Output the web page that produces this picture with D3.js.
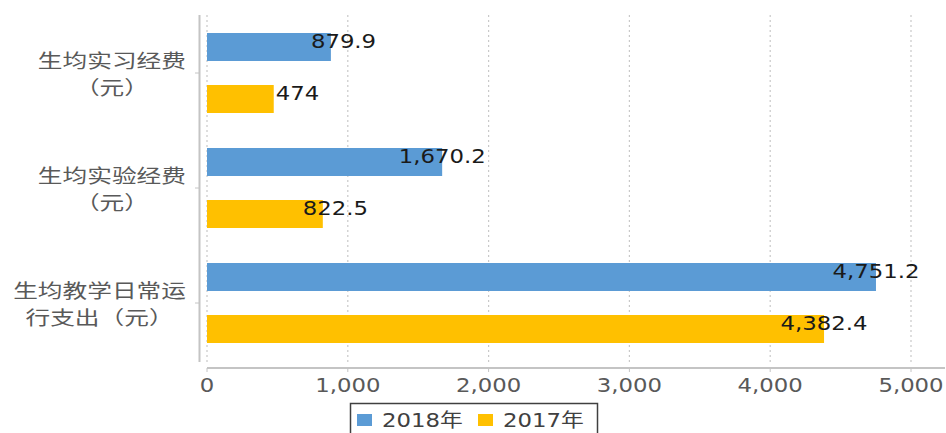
<!DOCTYPE html>
<html>
<head>
<meta charset="utf-8">
<script src="https://cdn.jsdelivr.net/npm/d3@7"></script>
<style>
  body { margin: 0; background: #fff; }
  svg { display: block; }
</style>
</head>
<body>
<div id="chart"></div>
<script>
const categories = ["生均实习经费\n（元）", "生均实验经费\n（元）", "生均教学日常运\n行支出（元）"];
const seriesNames = ["2018年", "2017年"];
const values2018 = [879.9, 1670.2, 4751.2];
const values2017 = [474, 822.5, 4382.4];
const xTicks = [0, 1000, 2000, 3000, 4000, 5000];
const colors = ["#5B9BD5", "#FFC000"];

const W = 946, H = 433;
const sx = 1.2; // the picture is stretched sideways, so text is too

const svg = d3.select("#chart").append("svg")
  .attr("width", W)
  .attr("height", H);

const x = d3.scaleLinear().domain([0, 5000]).range([207, 911]);
const y = d3.scaleBand().domain(categories).range([15.5, 360.5]);
const inner = d3.scaleBand().domain(seriesNames).range([0, y.bandwidth()])
  .paddingInner(0.4615).paddingOuter(0.3365);

const fmt = d3.format(",");

function stretchedText(g, tx, ty, str) {
  return g.append("text")
    .attr("transform", `translate(${tx},${ty}) scale(${sx},1)`)
    .text(str);
}

// dotted grid lines
svg.append("g")
  .selectAll("line")
  .data(xTicks)
  .join("line")
  .attr("x1", d => x(d))
  .attr("x2", d => x(d))
  .attr("y1", 15)
  .attr("y2", 362)
  .attr("stroke", "#c9c9c9")
  .attr("stroke-width", 1.2)
  .attr("stroke-dasharray", "2,3");

// bars
const rows = categories.map((c, i) => ({ cat: c, vals: [values2018[i], values2017[i]] }));
const groups = svg.append("g")
  .selectAll("g")
  .data(rows)
  .join("g")
  .attr("transform", d => `translate(0,${y(d.cat)})`);

groups.selectAll("rect")
  .data(d => d.vals.map((v, j) => ({ s: seriesNames[j], v: v, j: j })))
  .join("rect")
  .attr("x", x(0))
  .attr("y", d => inner(d.s))
  .attr("width", d => x(d.v) - x(0))
  .attr("height", inner.bandwidth())
  .attr("fill", d => colors[d.j]);

// data labels
groups.each(function(row) {
  const g = d3.select(this);
  row.vals.forEach((v, j) => {
    const end = x(v);
    const ty = inner(seriesNames[j]) + inner.bandwidth() / 2 + 1;
    const t = stretchedText(g, end, ty, fmt(v))
      .attr("font-family", "DejaVu Sans")
      .attr("font-size", 19)
      .attr("fill", "#1a1a1a")
      .attr("text-anchor", "middle");
    const w = t.node().getComputedTextLength() * sx;
    // centred on the bar end, short bars get pushed right a little
    let cx = end;
    if (v < 600) cx = end + 2 + w / 2;
    else if (v < 1000) cx = end - 20 + w / 2;
    t.attr("transform", `translate(${cx},${ty}) scale(${sx},1)`);
  });
});

// vertical axis
svg.append("line")
  .attr("x1", 199.5).attr("x2", 199.5)
  .attr("y1", 15).attr("y2", 362)
  .attr("stroke", "#c4c4c4").attr("stroke-width", 2);

svg.append("g")
  .selectAll("line")
  .data(categories)
  .join("line")
  .attr("x1", 195).attr("x2", 199)
  .attr("y1", d => y(d) + y.bandwidth() / 2)
  .attr("y2", d => y(d) + y.bandwidth() / 2)
  .attr("stroke", "#c4c4c4").attr("stroke-width", 1);

// category labels, one text with a tspan per line
const catG = svg.append("g");
const lh = 27, csx = 1.3;
categories.forEach(c => {
  const lines = c.split("\n");
  const cy = y(c) + y.bandwidth() / 2 + 1;
  const t = catG.append("text")
    .attr("font-family", "Noto Sans CJK SC")
    .attr("font-size", 19)
    .attr("fill", "#595959")
    .attr("text-anchor", "middle");
  const spans = lines.map((ln, k) =>
    t.append("tspan")
      .attr("x", 0)
      .attr("y", (k - (lines.length - 1) / 2) * lh + 7)
      .text(ln));
  const widths = spans.map(s => s.node().getComputedTextLength() * csx);
  const cx = 186 - d3.max(widths) / 2;
  t.attr("transform", `translate(${cx},${cy}) scale(${csx},1)`);
});

// horizontal axis
svg.append("line")
  .attr("x1", x(0)).attr("x2", 945)
  .attr("y1", 368).attr("y2", 368)
  .attr("stroke", "#c4c4c4").attr("stroke-width", 2);

const xAx = svg.append("g");
xAx.selectAll("line")
  .data(xTicks)
  .join("line")
  .attr("x1", d => x(d)).attr("x2", d => x(d))
  .attr("y1", 368).attr("y2", 372)
  .attr("stroke", "#c4c4c4");

xTicks.forEach(t => {
  stretchedText(xAx, x(t), 392, fmt(t))
    .attr("font-family", "DejaVu Sans")
    .attr("font-size", 19)
    .attr("fill", "#595959")
    .attr("text-anchor", "middle");
});

// legend
const leg = svg.append("g");
leg.append("rect")
  .attr("x", 350.5).attr("y", 403.5)
  .attr("width", 247).attr("height", 40)
  .attr("fill", "none")
  .attr("stroke", "#404040").attr("stroke-width", 1.5);

const legX = [357, 478];
seriesNames.forEach((s, i) => {
  leg.append("rect")
    .attr("x", legX[i]).attr("y", 414)
    .attr("width", 15).attr("height", 12)
    .attr("fill", colors[i]);
  stretchedText(leg, legX[i] + 25, 427, s)
    .attr("font-family", "DejaVu Sans, Noto Sans CJK SC")
    .attr("font-size", 19)
    .attr("fill", "#404040");
});
</script>
</body>
</html>
